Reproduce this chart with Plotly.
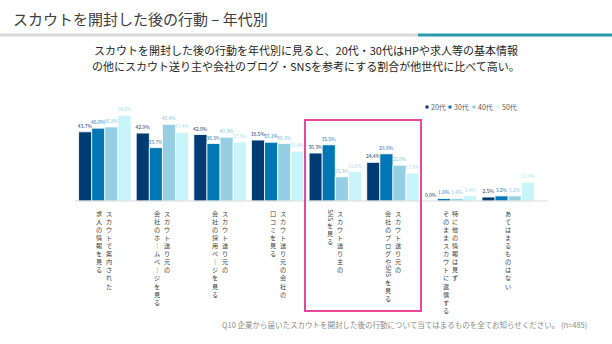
import plotly.graph_objects as go

# ---- data -------------------------------------------------------------
categories = [
    "スカウトで案内された求人の情報を見る",
    "スカウト送り元の会社のホームページを見る",
    "スカウト送り元の会社の採用ページを見る",
    "スカウト送り元の会社の口コミを見る",
    "スカウト送り主のSNSを見る",
    "スカウト送り元の会社のブログやSNSを見る",
    "特に他の情報は見ずそのままスカウトに返信する",
    "あてはまるものはない",
]
label_lines = [
    ["スカウトで案内された", "求人の情報を見る"],
    ["スカウト送り元の", "会社のホームページを見る"],
    ["スカウト送り元の", "会社の採用ページを見る"],
    ["スカウト送り元の会社の", "口コミを見る"],
    ["スカウト送り主の", "SNSを見る"],
    ["スカウト送り元の", "会社のブログやSNSを見る"],
    ["特に他の情報は見ず", "そのままスカウトに返信する"],
    ["あてはまるものはない"],
]
ages = ["20代", "30代", "40代", "50代"]
v20 = [43.7, 42.9, 42.0, 38.5, 30.3, 24.4, 0.0, 2.5]
v30 = [46.0, 33.7, 36.3, 37.1, 35.5, 29.8, 1.6, 3.2]
v40 = [46.8, 48.4, 40.3, 36.3, 15.3, 22.6, 1.6, 3.2]
v50 = [54.2, 43.4, 37.3, 31.4, 18.6, 17.6, 3.4, 11.9]
series = [v20, v30, v40, v50]
colors = ["#003c74", "#0077b4", "#96cfe4", "#c8f5f9"]
label_colors = ["#1d3f6b", "#2a7db6", "#8cc6df", "#a6e4ee"]

title = "スカウトを開封した後の行動 – 年代別"
subtitle = [
    "スカウトを開封した後の行動を年代別に見ると、20代・30代はHPや求人等の基本情報",
    "の他にスカウト送り主や会社のブログ・SNSを参考にする割合が他世代に比べて高い。",
]
footnote = "Q10 企業から届いたスカウトを開封した後の行動について当てはまるものを全てお知らせください。 (n=485)"

# ---- layout geometry ---------------------------------------------------
W, H = 612, 344
PL, PR, PT, PB = 76, 537, 106, 201
FONT = "Noto Sans CJK JP"


def px(x):
    return (x - PL) / (PR - PL)


def py(y):
    return (PB - y) / (PB - PT)


fig = go.Figure()
for name, vals, col, tcol in zip(ages, series, colors, label_colors):
    fig.add_trace(go.Bar(
        name=name, x=list(range(len(categories))), y=vals,
        marker=dict(color=col, line=dict(color="white", width=0.8)),
        texttemplate="%{y:.1f}%", textposition="outside",
        textfont=dict(size=5, color=tcol),
        constraintext="none", cliponaxis=False,
        hovertext=categories, showlegend=False,
    ))

annotations = []
shapes = []

# vertical (tategaki) category labels: one stacked text per run of
# Japanese characters, Latin runs (SNS) turned sideways
FS = 6.2
PITCH = FS * 1.3
COL_GAP = 10
START = 7
LABEL_COLOR = "#404040"


def split_runs(line):
    runs = []
    for ch in line:
        is_latin = ch.isascii() and ch.isalpha()
        if runs and runs[-1][0] == is_latin:
            runs[-1][1] += ch
        else:
            runs.append([is_latin, ch])
    return runs


for i, lines in enumerate(label_lines):
    n = len(lines)
    for j, line in enumerate(lines):
        xshift = ((n - 1) / 2 - j) * COL_GAP
        pos = START
        for is_latin, run in split_runs(line):
            if is_latin:
                length = len(run) * 3.7 + 1
                annotations.append(dict(
                    x=i, xref="x", y=0, yref="paper", text=run, textangle=90,
                    showarrow=False, xanchor="center", yanchor="middle",
                    xshift=xshift + 0.5, yshift=-(pos + length / 2 + 1),
                    borderpad=0,
                    font=dict(family=FONT, size=FS, color=LABEL_COLOR)))
                pos += length
            else:
                chars = ["｜" if c == "ー" else c for c in run]
                annotations.append(dict(
                    x=i, xref="x", y=0, yref="paper", text="<br>".join(chars),
                    showarrow=False, xanchor="center", yanchor="top",
                    xshift=xshift, yshift=-pos, borderpad=0,
                    font=dict(family=FONT, size=FS, color=LABEL_COLOR)))
                pos += len(chars) * PITCH

# baseline
shapes.append(dict(type="line", xref="paper", yref="paper",
                   x0=px(75), x1=px(548), y0=0, y1=0,
                   line=dict(color="#d9d9d9", width=1)))

# highlight frame around the blog / SNS items
shapes.append(dict(type="rect", xref="paper", yref="paper",
                   x0=px(305), x1=px(421), y0=py(311), y1=py(120),
                   line=dict(color="#e8489b", width=2)))

# header rule
shapes.append(dict(type="line", xref="paper", yref="paper",
                   x0=px(0), x1=px(418), y0=py(35), y1=py(35),
                   line=dict(color="#d9d9d9", width=3)))
shapes.append(dict(type="line", xref="paper", yref="paper",
                   x0=px(418), x1=px(612), y0=py(35), y1=py(35),
                   line=dict(color="#2a9ba8", width=3)))

# legend
leg_x = [427, 450, 474, 498]
for name, col, lx in zip(ages, colors, leg_x):
    shapes.append(dict(type="rect", xref="paper", yref="paper",
                       x0=px(lx - 1.5), x1=px(lx + 1.5),
                       y0=py(108.5), y1=py(105.5),
                       fillcolor=col, line=dict(width=0)))
    annotations.append(dict(
        x=px(lx + 2), y=py(107), xref="paper", yref="paper", text=name,
        showarrow=False, xanchor="left", yanchor="middle",
        font=dict(family=FONT, size=7, color="#595959")))

# title, subtitle, footnote
annotations.append(dict(
    x=px(11), y=py(18), xref="paper", yref="paper", text=title,
    showarrow=False, xanchor="left", yanchor="middle",
    font=dict(family=FONT, size=15, color="#404040")))
for line, yy in zip(subtitle, [50, 66]):
    annotations.append(dict(
        x=px(306), y=py(yy), xref="paper", yref="paper", text=line,
        showarrow=False, xanchor="center", yanchor="middle",
        font=dict(family=FONT, size=11, color="#262626")))
annotations.append(dict(
    x=px(589), y=py(324), xref="paper", yref="paper", text=footnote,
    showarrow=False, xanchor="right", yanchor="middle",
    font=dict(family=FONT, size=7.5, color="#8c8c8c")))

fig.update_layout(
    width=W, height=H,
    margin=dict(l=PL, r=W - PR, t=PT, b=H - PB, pad=0),
    paper_bgcolor="white", plot_bgcolor="white",
    barmode="group", bargap=0.09, bargroupgap=0,
    uniformtext=dict(minsize=5, mode="show"),
    font=dict(family=FONT),
    xaxis=dict(showticklabels=False, showgrid=False, zeroline=False,
               showline=False, ticks="", range=[-0.5, len(categories) - 0.5]),
    yaxis=dict(range=[0, 60], showticklabels=False, showgrid=False,
               zeroline=False, showline=False, ticks=""),
    annotations=annotations, shapes=shapes,
    showlegend=False,
)

fig.write_html("out.html")
